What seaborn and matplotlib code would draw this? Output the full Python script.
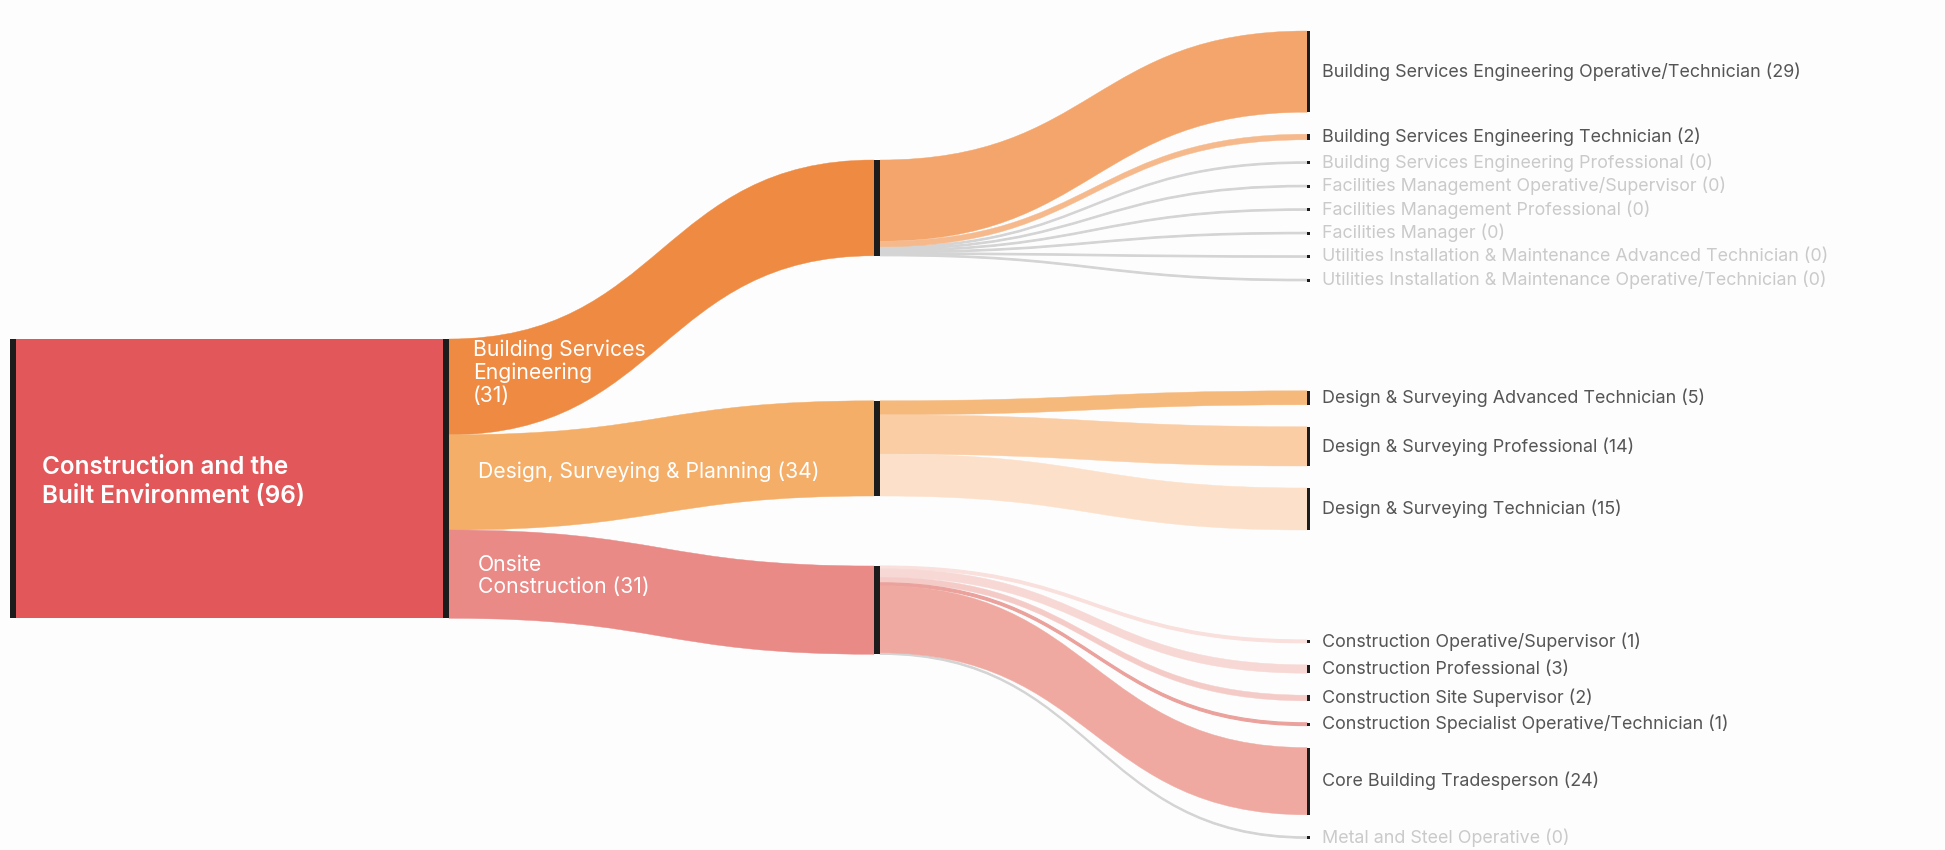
import matplotlib
matplotlib.use("Agg")
import matplotlib.pyplot as plt
from matplotlib.path import Path
from matplotlib.patches import PathPatch, Rectangle
import seaborn as sns

# ---------------- data ----------------
root_name = "Construction and the\nBuilt Environment"
root_value = 96

level1_names = ["Building Services\nEngineering\n", "Design, Surveying & Planning ", "Onsite\nConstruction "]
level1_values = [31, 34, 31]

level2_parent = [0, 0, 0, 0, 0, 0, 0, 0, 1, 1, 1, 2, 2, 2, 2, 2, 2]
level2_names = [
    "Building Services Engineering Operative/Technician",
    "Building Services Engineering Technician",
    "Building Services Engineering Professional",
    "Facilities Management Operative/Supervisor",
    "Facilities Management Professional",
    "Facilities Manager",
    "Utilities Installation & Maintenance Advanced Technician",
    "Utilities Installation & Maintenance Operative/Technician",
    "Design & Surveying Advanced Technician",
    "Design & Surveying Professional",
    "Design & Surveying Technician",
    "Construction Operative/Supervisor",
    "Construction Professional",
    "Construction Site Supervisor",
    "Construction Specialist Operative/Technician",
    "Core Building Tradesperson",
    "Metal and Steel Operative",
]
level2_values = [29, 2, 0, 0, 0, 0, 0, 0, 5, 14, 15, 1, 3, 2, 1, 24, 0]

# ---------------- styles ----------------
ROOT_COLOR = "#E2575A"
LEVEL1_COLORS = ["#EF8A42", "#F4AE68", "#E98A86"]
LEVEL2_COLORS = ["#F4A56B", "#F6B98C", None, None, None, None, None, None,
                 "#F6B97C", "#FACDA4", "#FCE0C9",
                 "#F9E0DD", "#F7D8D4", "#F5CBC7", "#EBA19C", "#F0A9A1", None]
ZERO_COLOR = "#D4D4D4"
BAR_COLOR = "#1C1C1C"
LABEL_COLOR = "#555555"
ZERO_LABEL_COLOR = "#CACACA"
BG = "#FDFDFD"

# layout (pixels)
PX = 2.8           # pixels per unit
ZERO_PX = 1.5      # visual thickness of zero links
ROOT_X0, ROOT_X1 = 10, 449
COL2_X0, COL2_X1 = 874, 880
COL3_X0, COL3_X1 = 1307, 1310
ROOT_TOP = 339
COL2_TOP = 160
COL2_GAPS = [145, 70]
COL3_TOP = 31
COL3_PAD = 22
COL3_GROUP_GAP = 110
L1_LABEL_X = [473, 478, 478]
L1_LABEL_DY = [-14, -11, 2]

sns.set_theme(style="white")
plt.rcParams["font.family"] = ["Inter", "DejaVu Sans"]

fig = plt.figure(figsize=(19.45, 8.5), dpi=100, facecolor=BG)
ax = fig.add_axes([0, 0, 1, 1])
ax.set_facecolor(BG)
ax.set_xlim(0, 1945)
ax.set_ylim(850, 0)
ax.axis("off")


def thick(v):
    return v * PX if v > 0 else ZERO_PX


def band(x0, y0a, y0b, x1, y1a, y1b, color, z=1):
    xm = (x0 + x1) / 2
    verts = [(x0, y0a), (xm, y0a), (xm, y1a), (x1, y1a),
             (x1, y1b), (xm, y1b), (xm, y0b), (x0, y0b), (x0, y0a)]
    codes = [Path.MOVETO, Path.CURVE4, Path.CURVE4, Path.CURVE4,
             Path.LINETO, Path.CURVE4, Path.CURVE4, Path.CURVE4, Path.CLOSEPOLY]
    lw = 0.8 if (y0b - y0a) < 3 else 0.3
    ax.add_patch(PathPatch(Path(verts, codes), facecolor=color, edgecolor=color,
                           lw=lw, zorder=z))


# level-2 layout
n2 = len(level2_values)
l2_thick = [thick(v) for v in level2_values]
l2_top = []
y = COL3_TOP
prev_parent = None
for i in range(n2):
    if prev_parent is not None:
        y += COL3_GROUP_GAP if level2_parent[i] != prev_parent else COL3_PAD
    l2_top.append(y)
    y += l2_thick[i]
    prev_parent = level2_parent[i]

# level-1 thickness (includes zero-link thickness)
l1_thick = []
for p in range(len(level1_values)):
    l1_thick.append(sum(l2_thick[i] for i in range(n2) if level2_parent[i] == p))
l1_top = []
y = COL2_TOP
for p in range(len(level1_values)):
    if p > 0:
        y += COL2_GAPS[p - 1]
    l1_top.append(y)
    y += l1_thick[p]

root_thick = sum(l1_thick)

# root node block
ax.add_patch(Rectangle((ROOT_X0, ROOT_TOP), ROOT_X1 - ROOT_X0, root_thick,
                       facecolor=ROOT_COLOR, edgecolor="none", zorder=2))
ax.add_patch(Rectangle((ROOT_X0, ROOT_TOP), 6, root_thick, facecolor=BAR_COLOR,
                       edgecolor="none", zorder=3))
ax.add_patch(Rectangle((ROOT_X1 - 6, ROOT_TOP), 6, root_thick, facecolor=BAR_COLOR,
                       edgecolor="none", zorder=3))

# root -> level1 links
ys = ROOT_TOP
for p in range(len(level1_values)):
    t = l1_thick[p]
    band(ROOT_X1, ys, ys + t, COL2_X0, l1_top[p], l1_top[p] + t, LEVEL1_COLORS[p], z=1)
    ys += t

# level1 -> level2 links
src_off = list(l1_top)
segments = []
for i in range(n2):
    p = level2_parent[i]
    t = l2_thick[i]
    segments.append((i, p, src_off[p], t))
    src_off[p] += t
for i, p, s, t in segments:
    if level2_values[i] == 0:
        band(COL2_X1, s, s + t, COL3_X0, l2_top[i], l2_top[i] + t, ZERO_COLOR, z=1)
for i, p, s, t in segments:
    if level2_values[i] > 0:
        band(COL2_X1, s, s + t, COL3_X0, l2_top[i], l2_top[i] + t, LEVEL2_COLORS[i], z=2)

# level1 node bars
for p in range(len(level1_values)):
    ax.add_patch(Rectangle((COL2_X0, l1_top[p]), COL2_X1 - COL2_X0, l1_thick[p],
                           facecolor=BAR_COLOR, edgecolor="none", zorder=4))

# level2 node bars and labels
for i in range(n2):
    v = level2_values[i]
    if v > 0:
        ax.add_patch(Rectangle((COL3_X0, l2_top[i]), COL3_X1 - COL3_X0, l2_thick[i],
                               facecolor=BAR_COLOR, edgecolor="none", zorder=4))
    else:
        ax.add_patch(Rectangle((COL3_X0, l2_top[i] - 0.8), 3, 3,
                               facecolor=BAR_COLOR, edgecolor="none", zorder=4))
    yc = l2_top[i] + l2_thick[i] / 2
    ax.text(1322, yc, f"{level2_names[i]} ({v})", ha="left", va="center",
            fontsize=12.9, color=LABEL_COLOR if v > 0 else ZERO_LABEL_COLOR, zorder=5)

# root label
ax.text(42, ROOT_TOP + root_thick / 2 + 3, f"{root_name} ({root_value})",
        ha="left", va="center", fontsize=17.5, fontweight="semibold",
        color="white", linespacing=1.35, zorder=5)

# level1 labels
ys = ROOT_TOP
for p in range(len(level1_values)):
    t = l1_thick[p]
    ax.text(L1_LABEL_X[p], ys + t / 2 + L1_LABEL_DY[p],
            f"{level1_names[p]}({level1_values[p]})",
            ha="left", va="center", fontsize=15.2, fontweight="normal", color="white",
            linespacing=1.15, zorder=5)
    ys += t

fig.savefig("out.png", dpi=100, facecolor=BG)
